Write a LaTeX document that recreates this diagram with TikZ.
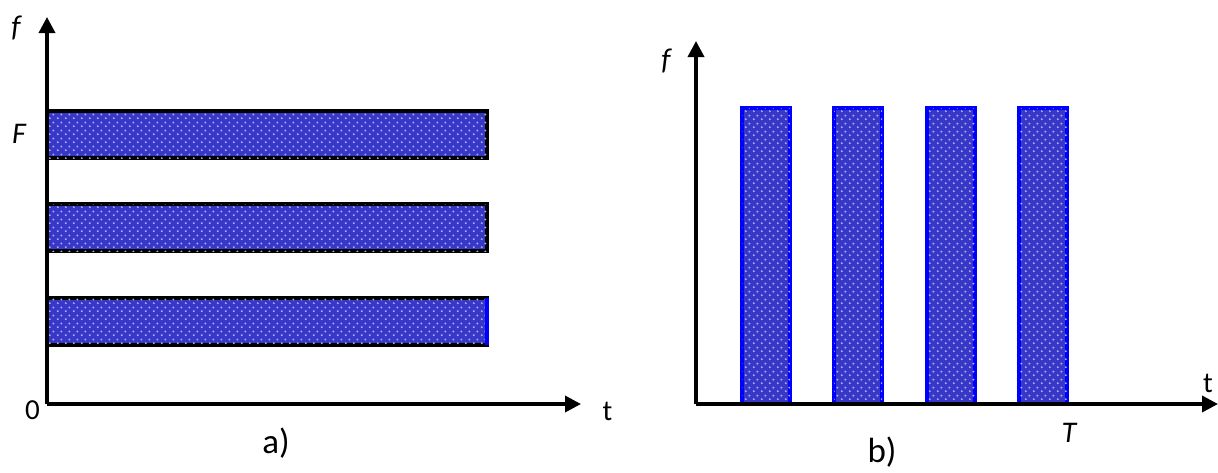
\documentclass[tikz,border=0pt]{standalone}
\usepackage{fontspec}
\setmainfont{Carlito}
\usetikzlibrary{arrows.meta,patterns}
\definecolor{barfill}{RGB}{55,55,200}
\definecolor{barpat}{RGB}{175,175,240}
\definecolor{barblue}{RGB}{0,0,255}
\pgfdeclarepatternformonly{bardots}{\pgfqpoint{0pt}{0pt}}{\pgfqpoint{8pt}{8pt}}{\pgfqpoint{8pt}{8pt}}{%
  \pgfpathcircle{\pgfqpoint{2pt}{2pt}}{1.2pt}%
  \pgfpathcircle{\pgfqpoint{6pt}{6pt}}{1.2pt}%
  \pgfusepath{fill}}
\tikzset{
  axis/.style={line width=3.5pt,-{Triangle[length=16pt,width=16pt]}},
  hbar/.style={draw=black,line width=3.5pt,fill=barfill,postaction={pattern=bardots,pattern color=barpat}},
  vbar/.style={draw=barblue,line width=3.5pt,fill=barfill,postaction={pattern=bardots,pattern color=barpat}},
  lbl/.style={font=\fontsize{29}{33}\selectfont,inner sep=0pt},
  ilbl/.style={font=\fontsize{30}{34}\selectfont\itshape,inner sep=0pt},
  captext/.style={font=\fontsize{35}{40}\selectfont,inner sep=0pt}
}
\begin{document}
\begin{tikzpicture}[x=1pt,y=-1pt]
\useasboundingbox (0,0) rectangle (1218,472);
% panel a
\coordinate (ao) at (47,404);
\coordinate (ay) at (47,17);
\coordinate (ax) at (581,404);
\draw[hbar] (47,111) rectangle (487,158);
\draw[hbar] (47,204) rectangle (487,251);
\draw[hbar] (47,298) rectangle (487,345);
\draw[barblue,line width=3.5pt] (487,298) -- (487,345);
\draw[axis] (ao) -- (ay);
\draw[axis] (ao) -- (ax);
\node[ilbl] (af) at (16,28) {f};
\node[ilbl] (aF) at (19,134) {F};
\node[lbl] (a0) at (32.5,410) {0};
\node[lbl] (at) at (607.5,411) {t};
\node[captext] (acap) at (276,443) {a)};
% panel b
\coordinate (bo) at (696,404);
\coordinate (by) at (696,41);
\coordinate (bx) at (1218,404);
\foreach \x in {742,834,927,1019}{
  \draw[vbar] (\x,108) rectangle (\x+48,404);
}
\draw[axis] (bo) -- (by);
\draw[axis] (bo) -- (bx);
\node[ilbl] (bf) at (666,61) {f};
\node[lbl] (bt) at (1208,383) {t};
\node[ilbl] (bT) at (1069,433) {T};
\node[captext] (bcap) at (882,452) {b)};
\end{tikzpicture}
\end{document}
